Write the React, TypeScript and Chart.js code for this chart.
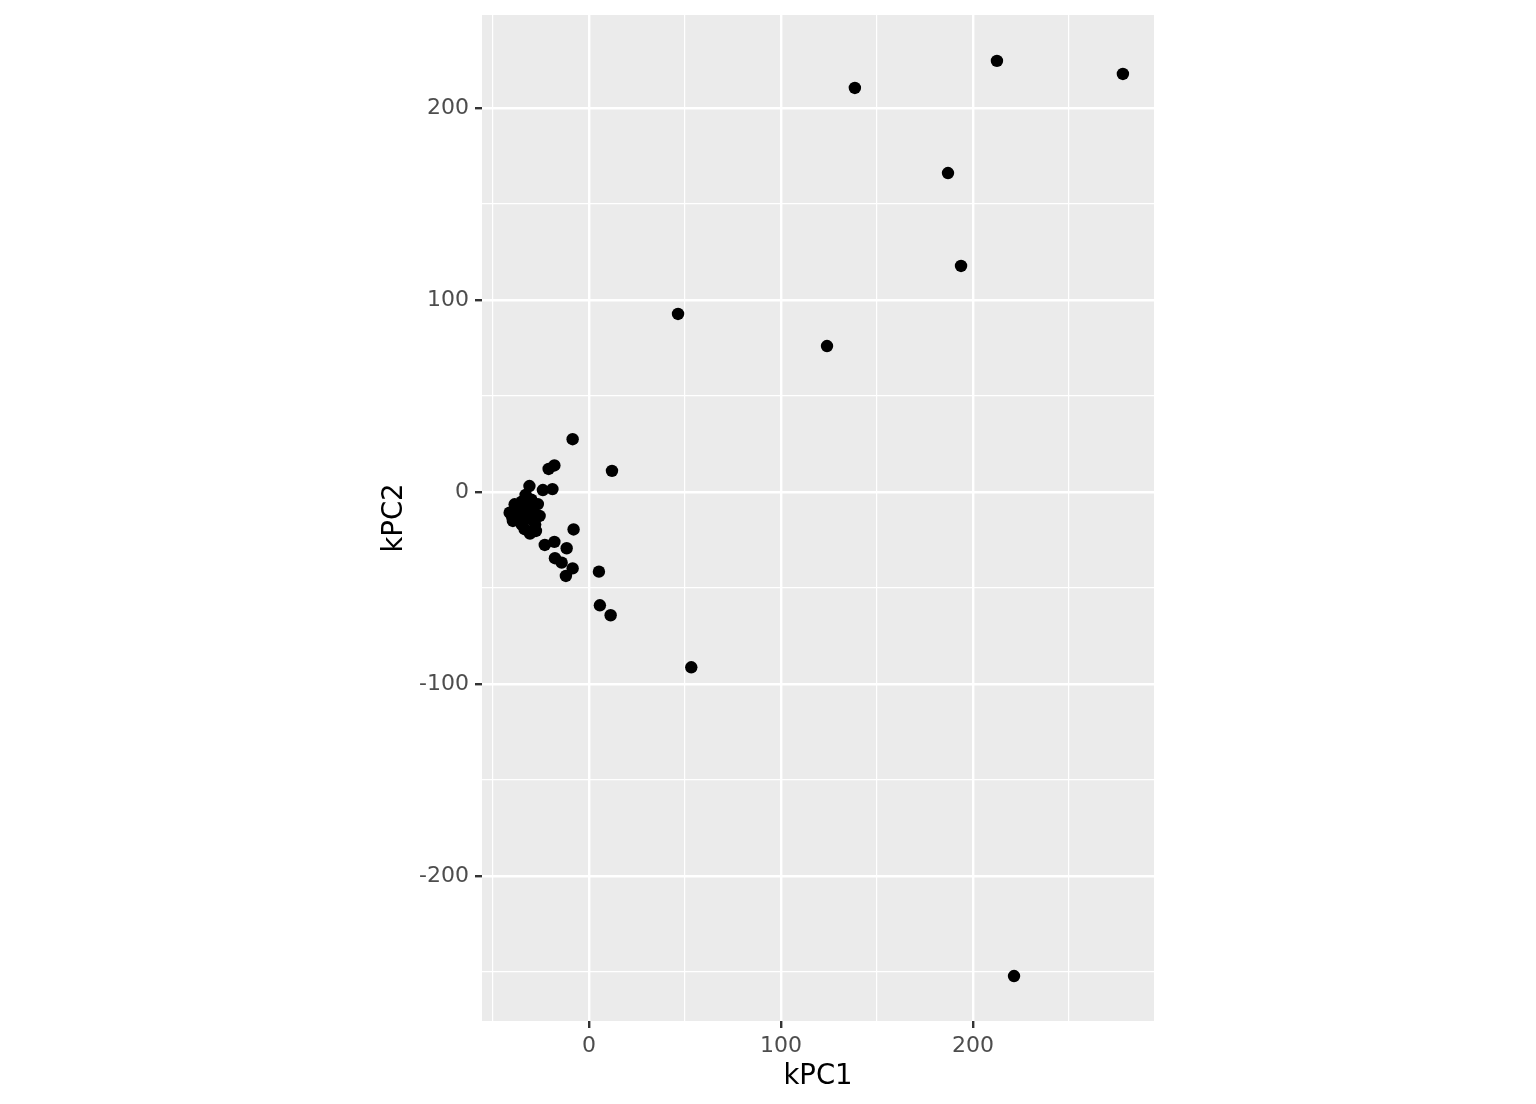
import React, { useEffect, useRef } from "react";
import { Chart, registerables } from "chart.js";

Chart.register(...registerables);

const xLabel = "kPC1";
const yLabel = "kPC2";

const xMajor = [0, 100, 200];
const xMinor = [-50, 50, 150, 250];
const yMajor = [-200, -100, 0, 100, 200];
const yMinor = [-250, -150, -50, 50, 150];

const kPC1 = [
  138.5, 212.5, 278.1, 187, 193.8, 46.4, 124, 221.4, 53.3,
  -8.5, -18, -21, 12, -31, -24, -19, -8, -23, -18, -11.6, -17.7, -14.2, -8.5, -12, 5.2, 5.7, 11.3,
  -41.3, -40, -38.7, -39.6, -37, -36, -35, -35, -33.5, -33, -32, -31, -30.7, -30, -29, -28, -27.6, -26.6, -25.7, -33,
];
const kPC2 = [
  210.4, 224.5, 217.7, 166.1, 117.7, 92.7, 76, -252.1, -91.3,
  27.5, 13.8, 12, 11, 3.1, 1, 1.5, -19.5, -27.6, -26, -29.3, -34.5, -36.8, -39.8, -43.75, -41.5, -59, -64.2,
  -10.8, -13, -6.4, -15.1, -12, -9, -5, -17, -19.4, -12, -8, -14, -21.7, -4, -11, -17, -20.3, -6.3, -12.5, -1.5,
];

const xMin = -55.7;
const xMax = 294.3;
const yMin = -275.5;
const yMax = 248.4;

const FONT = '"DejaVu Sans", sans-serif';

export default function App() {
  const ref = useRef<HTMLCanvasElement | null>(null);

  useEffect(() => {
    const canvas = ref.current;
    if (!canvas) return;
    const points = kPC1.map((x, i) => ({ x, y: kPC2[i] }));
    const isMajorX = (v: number) => xMajor.includes(v);
    const isMajorY = (v: number) => yMajor.includes(v);

    const panelPlugin = {
      id: "panel",
      beforeDraw(chart: any) {
        const { ctx, chartArea } = chart;
        ctx.save();
        ctx.fillStyle = "#EBEBEB";
        ctx.fillRect(chartArea.left, chartArea.top, chartArea.right - chartArea.left, chartArea.bottom - chartArea.top);
        ctx.restore();
      },
      afterDraw(chart: any) {
        const { ctx, chartArea } = chart;
        ctx.save();
        ctx.fillStyle = "#000000";
        ctx.font = `27.5px ${FONT}`;
        ctx.textAlign = "center";
        ctx.textBaseline = "middle";
        ctx.fillText(xLabel, (chartArea.left + chartArea.right) / 2, 1077);
        ctx.translate(395, (chartArea.top + chartArea.bottom) / 2);
        ctx.rotate(-Math.PI / 2);
        ctx.fillText(yLabel, 0, 0);
        ctx.restore();
      },
    };

    const chart = new Chart(canvas, {
      type: "scatter",
      data: {
        datasets: [
          {
            data: points,
            backgroundColor: "#000000",
            borderWidth: 0,
            pointRadius: 6.2,
            pointHoverRadius: 6.2,
          },
        ],
      },
      options: {
        responsive: false,
        animation: false,
        events: [],
        layout: { padding: { left: 0, top: 15, right: 1536 - 1154, bottom: 0 } },
        plugins: { legend: { display: false }, tooltip: { enabled: false } },
        scales: {
          x: {
            type: "linear",
            min: xMin,
            max: xMax,
            afterFit(scale: any) {
              scale.height = 1104 - 1021;
              scale.paddingLeft = 0;
              scale.paddingRight = 0;
            },
            afterBuildTicks(scale: any) {
              scale.ticks = [...xMinor, ...xMajor].sort((a, b) => a - b).map((v) => ({ value: v }));
            },
            border: { display: false },
            grid: {
              color: "#FFFFFF",
              lineWidth: (c: any) => (isMajorX(c.tick?.value) ? 2.4 : 1.2),
              tickColor: (c: any) => (isMajorX(c.tick?.value) ? "#333333" : "rgba(0,0,0,0)"),
              tickWidth: 2.4,
              tickLength: 7,
              drawTicks: true,
            },
            ticks: {
              autoSkip: false,
              maxRotation: 0,
              padding: 5,
              color: "#4D4D4D",
              font: { family: FONT, size: 22 },
              callback: (v: any) => (isMajorX(Number(v)) ? String(v) : ""),
            },
          },
          y: {
            type: "linear",
            min: yMin,
            max: yMax,
            afterFit(scale: any) {
              scale.width = 482;
              scale.paddingTop = 0;
              scale.paddingBottom = 0;
            },
            afterBuildTicks(scale: any) {
              scale.ticks = [...yMinor, ...yMajor].sort((a, b) => a - b).map((v) => ({ value: v }));
            },
            border: { display: false },
            grid: {
              color: "#FFFFFF",
              lineWidth: (c: any) => (isMajorY(c.tick?.value) ? 2.4 : 1.2),
              tickColor: (c: any) => (isMajorY(c.tick?.value) ? "#333333" : "rgba(0,0,0,0)"),
              tickWidth: 2.4,
              tickLength: 7,
              drawTicks: true,
            },
            ticks: {
              autoSkip: false,
              padding: 6,
              color: "#4D4D4D",
              font: { family: FONT, size: 22 },
              callback: (v: any) => (isMajorY(Number(v)) ? String(v) : ""),
            },
          },
        },
      },
      plugins: [panelPlugin],
    });
    return () => chart.destroy();
  }, []);

  return (
    <div style={{ position: "fixed", left: 0, top: 0, width: 1536, height: 1104, background: "#FFFFFF" }}>
      <canvas ref={ref} width={1536} height={1104} style={{ display: "block", width: 1536, height: 1104 }} />
    </div>
  );
}
